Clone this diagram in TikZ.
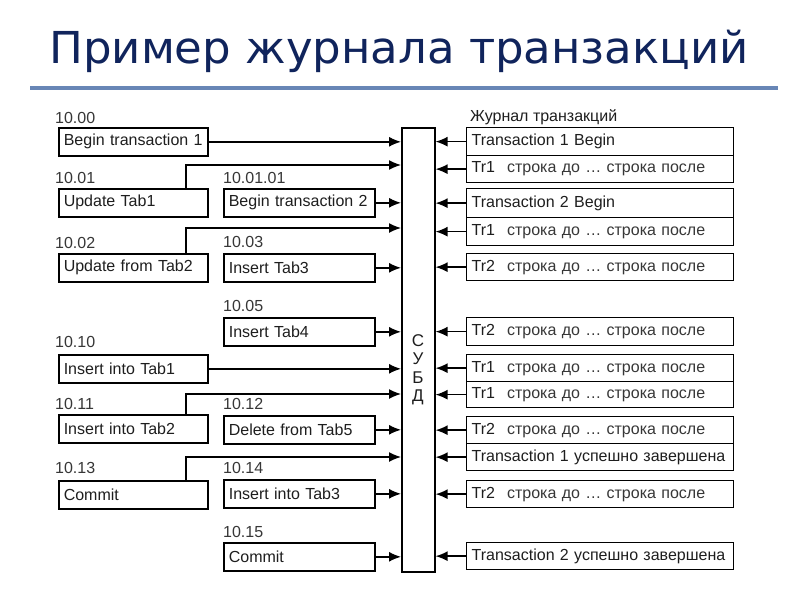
\documentclass[tikz,border=0pt]{standalone}
\usepackage{fontspec}
\setmainfont{Liberation Sans}
\newfontfamily\titlefont{DejaVu Sans}
\usetikzlibrary{arrows.meta}
\definecolor{navy}{RGB}{16,36,92}
\definecolor{rulec}{RGB}{104,134,182}
\definecolor{ink}{RGB}{30,30,30}
\definecolor{soft}{RGB}{55,55,55}
\begin{document}
\begin{tikzpicture}[x=1pt,y=-1pt,
  every node/.style={text=ink},
  lbl/.style={anchor=base west, inner sep=0pt, font=\fontsize{16}{18}\selectfont, text=soft},
  boxbase/.style={draw=black, line width=1.6pt, anchor=north west, minimum height=28pt,
    inner xsep=5pt, inner ysep=0pt, align=left, font=\fontsize{16}{18}\selectfont},
  lbox/.style={boxbase, text width=139pt},
  mbox/.style={boxbase, text width=141pt},
  rbox/.style={boxbase, text width=257pt, minimum height=27pt, line width=1.3pt},
  arr/.style={line width=1.4pt, -{Latex[length=12pt,width=10pt]}},
  rarr/.style={line width=1.4pt, -{Latex[length=12pt,width=10pt]}}
]
\useasboundingbox[fill=white] (0,0) rectangle (800,600);

% title
\node[anchor=base, inner sep=0pt, text=navy, font=\titlefont\fontsize{44}{50}\selectfont] (title) at (399,63) {\scalebox{1.023}[1]{Пример журнала транзакций}};
\draw[rulec, line width=4.5pt] (30,88) -- (778,88);

% DBMS
\node[draw=black, line width=1.6pt, anchor=north west, minimum width=33pt, minimum height=444pt, inner sep=0pt] (subd) at (401,127) {};
\node[align=center, inner sep=0pt, font=\fontsize{17}{18.5}\selectfont] (subdtxt) at (418,370) {С\\У\\Б\\Д};

% left column
\node[lbl] (l1) at (55,123) {10.00};
\node[lbox] (b1) at (58,127) {Begin transaction 1};
\node[lbl] (l2) at (55,183) {10.01};
\node[lbox] (b2) at (58,188) {Update Tab1};
\node[lbl] (l3) at (55,248) {10.02};
\node[lbox] (b3) at (58,253) {Update from Tab2};
\node[lbl] (l4) at (55,347) {10.10};
\node[lbox] (b4) at (58,354) {Insert into Tab1};
\node[lbl] (l5) at (55,409) {10.11};
\node[lbox] (b5) at (58,414) {Insert into Tab2};
\node[lbl] (l6) at (55,473) {10.13};
\node[lbox] (b6) at (58,480) {Commit};

% middle column
\node[lbl] (m1l) at (223,183) {10.01.01};
\node[mbox] (m1) at (223,188) {Begin transaction 2};
\node[lbl] (m2l) at (223,247) {10.03};
\node[mbox] (m2) at (223,253) {Insert Tab3};
\node[lbl] (m3l) at (223,311) {10.05};
\node[mbox] (m3) at (223,317) {Insert Tab4};
\node[lbl] (m4l) at (223,409) {10.12};
\node[mbox] (m4) at (223,415) {Delete from Tab5};
\node[lbl] (m5l) at (223,473) {10.14};
\node[mbox] (m5) at (223,479) {Insert into Tab3};
\node[lbl] (m6l) at (223,537) {10.15};
\node[mbox] (m6) at (223,542) {Commit};

% bend points
\coordinate (k2) at (186,188);
\coordinate (t2) at (186,165);
\coordinate (k3) at (186,253);
\coordinate (t3) at (186,228);
\coordinate (k5) at (186,414);
\coordinate (t5) at (186,394);
\coordinate (k6) at (186,480);
\coordinate (t6) at (186,457);

% left arrows
\draw[arr] (b1.east) -- (b1.east -| subd.west);
\draw[arr] (k2) -- (t2) -- (t2 -| subd.west);
\draw[arr] (m1.east) -- (m1.east -| subd.west);
\draw[arr] (k3) -- (t3) -- (t3 -| subd.west);
\draw[arr] (m2.east) -- (m2.east -| subd.west);
\draw[arr] (m3.east) -- (m3.east -| subd.west);
\draw[arr] (b4.east) -- (b4.east -| subd.west);
\draw[arr] (k5) -- (t5) -- (t5 -| subd.west);
\draw[arr] (m4.east) -- (m4.east -| subd.west);
\draw[arr] (k6) -- (t6) -- (t6 -| subd.west);
\draw[arr] (m5.east) -- (m5.east -| subd.west);
\draw[arr] (m6.east) -- (m6.east -| subd.west);

% log
\node[lbl, text=ink, font=\fontsize{16}{18}\selectfont] (jhead) at (470,121) {Журнал транзакций};
\newcommand{\trrow}[1]{#1\hspace{12pt}{\color{soft}строка до … строка после}}
\node[rbox, minimum height=28pt] (r1) at (466,127) {Transaction 1 Begin};
\node[rbox] (r2) at (466,155) {\trrow{Tr1}};
\node[rbox, minimum height=29pt] (r3) at (466,188) {Transaction 2 Begin};
\node[rbox, minimum height=28pt] (r4) at (466,217) {\trrow{Tr1}};
\node[rbox] (r5) at (466,253) {\trrow{Tr2}};
\node[rbox, minimum height=28pt] (r6) at (466,317) {\trrow{Tr2}};
\node[rbox] (r7) at (466,354) {\trrow{Tr1}};
\node[rbox, minimum height=26pt] (r8) at (466,381) {\trrow{Tr1}};
\node[rbox] (r9) at (466,416) {\trrow{Tr2}};
\node[rbox] (r10) at (466,443) {Transaction 1 успешно завершена};
\node[rbox] (r11) at (466,480) {\trrow{Tr2}};
\node[rbox] (r12) at (466,542) {Transaction 2 успешно завершена};

\foreach \r in {r1,r2,r3,r4,r5,r6,r7,r8,r9,r10,r11,r12}
  \draw[rarr] (\r.west) -- (\r.west -| subd.east);
\end{tikzpicture}
\end{document}
